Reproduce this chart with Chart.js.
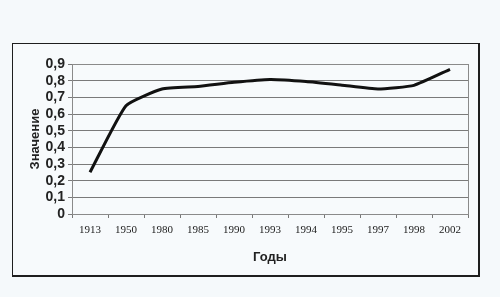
<!DOCTYPE html>
<html>
<head>
<meta charset="utf-8">
<script src="https://cdn.jsdelivr.net/npm/chart.js@4/dist/chart.umd.min.js"></script>
<style>
  html, body { margin: 0; padding: 0; background: #f5f9fb; }
  body { width: 500px; height: 297px; position: relative; overflow: hidden; }
  #box { position: absolute; left: 12px; top: 43px; width: 465px; height: 231px;
         border: 1px solid #1e1e1e; border-right-width: 2px; border-bottom-width: 2px; background: #f7fafc; }
  canvas { display: block; }
</style>
</head>
<body>
<div id="box"><canvas id="chart" width="465" height="231"></canvas></div>
<script>
// данные графика
const years = ['1913', '1950', '1980', '1985', '1990', '1993', '1994', '1995', '1997', '1998', '2002'];
const values = [0.25, 0.65, 0.75, 0.765, 0.79, 0.807, 0.795, 0.773, 0.75, 0.772, 0.868];
const yTicks = [0, 0.1, 0.2, 0.3, 0.4, 0.5, 0.6, 0.7, 0.8, 0.9];

// рамка области построения
const plotBorder = {
  id: 'plotBorder',
  afterDraw(chart) {
    const { ctx, chartArea: a } = chart;
    ctx.save();
    ctx.strokeStyle = '#8a8a8a';
    ctx.lineWidth = 1;
    ctx.strokeRect(a.left + 0.5, a.top + 0.5, a.right - a.left, a.bottom - a.top);
    ctx.restore();
  }
};

new Chart(document.getElementById('chart'), {
  type: 'line',
  data: {
    labels: years,
    datasets: [{
      data: values,
      borderColor: '#111',
      borderWidth: 3,
      pointRadius: 0,
      tension: 0.15,
      fill: false
    }]
  },
  options: {
    responsive: false,
    animation: false,
    layout: { padding: { left: 11, right: 10, top: 20, bottom: 6 } },
    plugins: { legend: { display: false }, tooltip: { enabled: false } },
    scales: {
      x: {
        offset: true,
        grid: { offset: true, drawOnChartArea: false, drawTicks: true, tickLength: 4, color: '#777' },
        border: { color: '#777' },
        ticks: { color: '#222', autoSkip: false, font: { family: 'Liberation Serif', size: 11 }, padding: 6, maxRotation: 0 },
        title: { display: true, text: 'Годы', color: '#222', font: { family: 'Liberation Sans', size: 13, weight: 'bold' }, padding: { top: 5 } },
        afterFit(s) { s.height = 55; }
      },
      y: {
        min: 0,
        max: 0.9,
        afterBuildTicks(s) { s.ticks = yTicks.map(v => ({ value: v })); },
        grid: { color: '#7a7a7a', tickLength: 4, lineWidth: 1 },
        border: { color: '#777' },
        ticks: {
          color: '#222', padding: 3, autoSkip: false,
          font: { family: 'Liberation Sans', size: 14, weight: 'bold' },
          callback: v => String(Math.round(v * 10) / 10).replace('.', ',')
        },
        title: { display: true, text: 'Значение', color: '#222', font: { family: 'Liberation Sans', size: 13, weight: 'bold' }, padding: { bottom: 2 } },
        afterFit(s) { s.width = 48; }
      }
    }
  },
  plugins: [plotBorder]
});
</script>
</body>
</html>
